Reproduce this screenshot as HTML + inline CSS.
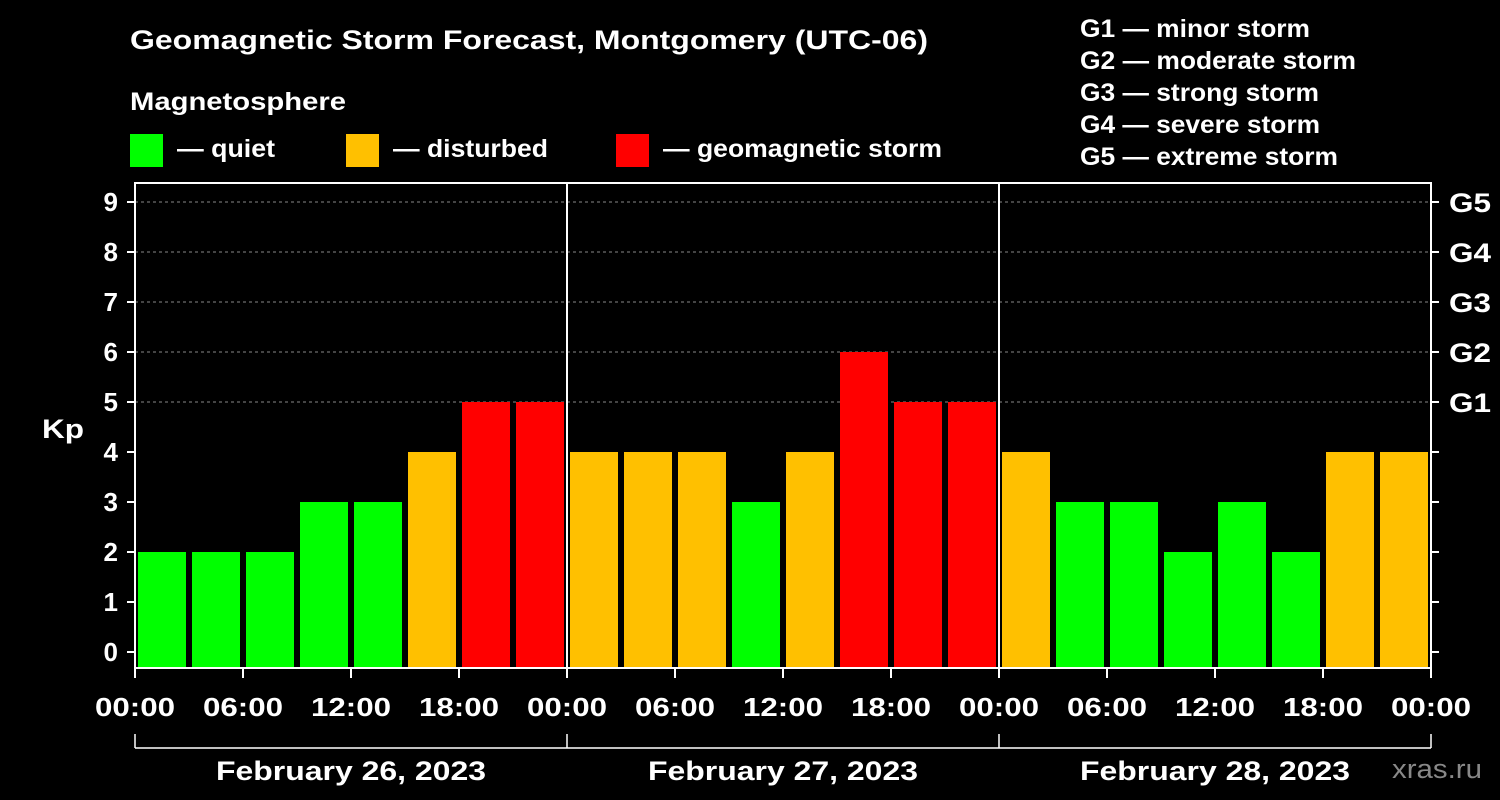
<!DOCTYPE html>
<html><head><meta charset="utf-8"><style>
html,body{margin:0;padding:0;background:#000;}
svg{display:block;font-family:"Liberation Sans",Arial,sans-serif;font-weight:bold;}
</style></head><body>
<svg id="chart" width="1500" height="800" viewBox="0 0 1500 800" xmlns="http://www.w3.org/2000/svg">
<rect width="1500" height="800" fill="#000"/>
<text x="130" y="49" fill="#fff" font-size="27" textLength="798" lengthAdjust="spacingAndGlyphs">Geomagnetic Storm Forecast, Montgomery (UTC-06)</text>
<text x="130" y="110" fill="#fff" font-size="25" textLength="216" lengthAdjust="spacingAndGlyphs">Magnetosphere</text>
<g><rect x="130" y="134" width="33" height="33" fill="#00ff00"/><text x="177" y="157" fill="#fff" font-size="25" textLength="98" lengthAdjust="spacingAndGlyphs">— quiet</text></g>
<g><rect x="346" y="134" width="33" height="33" fill="#ffc000"/><text x="393" y="157" fill="#fff" font-size="25" textLength="155" lengthAdjust="spacingAndGlyphs">— disturbed</text></g>
<g><rect x="616" y="134" width="33" height="33" fill="#ff0000"/><text x="663" y="157" fill="#fff" font-size="25" textLength="279" lengthAdjust="spacingAndGlyphs">— geomagnetic storm</text></g>
<g fill="#fff" font-size="25">
<text x="1080" y="37" textLength="230" lengthAdjust="spacingAndGlyphs">G1 — minor storm</text>
<text x="1080" y="69" textLength="276" lengthAdjust="spacingAndGlyphs">G2 — moderate storm</text>
<text x="1080" y="101" textLength="239" lengthAdjust="spacingAndGlyphs">G3 — strong storm</text>
<text x="1080" y="133" textLength="240" lengthAdjust="spacingAndGlyphs">G4 — severe storm</text>
<text x="1080" y="165" textLength="258" lengthAdjust="spacingAndGlyphs">G5 — extreme storm</text>
</g>
<text x="42" y="438" fill="#fff" font-size="27" textLength="42" lengthAdjust="spacingAndGlyphs">Kp</text>
<text x="1392" y="778" fill="#888" font-size="27" font-weight="normal" textLength="90" lengthAdjust="spacingAndGlyphs">xras.ru</text>
<g id="plot"></g>
</svg>
<script>
const kpValues = [2,2,2,3,3,4,5,5, 4,4,4,3,4,6,5,5, 4,3,3,2,3,2,4,4];
const yTicks = [0,1,2,3,4,5,6,7,8,9];
const gLabels = {5:'G1',6:'G2',7:'G3',8:'G4',9:'G5'};
const xTickLabels = ['00:00','06:00','12:00','18:00','00:00','06:00','12:00','18:00','00:00','06:00','12:00','18:00','00:00'];
const dayLabels = ['February 26, 2023','February 27, 2023','February 28, 2023'];

const NS='http://www.w3.org/2000/svg';
const L=135,R=1431,T=183,B=668;
const slot=(R-L)/kpValues.length;
const y=v=>652-50*v;
const x=i=>L+i*slot;
const g=document.getElementById('plot');
function mk(tag,attrs,parent){const e=document.createElementNS(NS,tag);for(const k in attrs)e.setAttribute(k,attrs[k]);(parent||g).appendChild(e);return e;}
yTicks.forEach(v=>{
  if(v>=5){const l=mk('line',{x1:L,x2:R,y1:y(v),y2:y(v),stroke:'#888','stroke-dasharray':'3,3','stroke-width':1});
  
  }
});
kpValues.forEach((v,i)=>{
  const c=v>=5?'#ff0000':(v>=4?'#ffc000':'#00ff00');
  const r=mk('rect',{x:x(i)+3,y:y(v),width:slot-6,height:B-y(v),fill:c});
  
  
});
const fr=mk('rect',{x:L,y:T,width:R-L,height:B-T,fill:'none',stroke:'#fff','stroke-width':2});


const nDays=dayLabels.length, dayW=(R-L)/nDays;
for(let d=1;d<nDays;d++){const l=mk('line',{x1:L+d*dayW,x2:L+d*dayW,y1:T,y2:B,stroke:'#fff','stroke-width':2});

}
yTicks.forEach(v=>{
  mk('line',{x1:L-8,x2:L,y1:y(v),y2:y(v),stroke:'#fff','stroke-width':2});
  mk('line',{x1:R,x2:R+8,y1:y(v),y2:y(v),stroke:'#fff','stroke-width':2});
  const t=mk('text',{x:L-17,y:y(v)+9,fill:'#fff','font-size':26,'text-anchor':'end'});t.textContent=v;
  
  
  if(gLabels[v]){const t2=mk('text',{x:R+18,y:y(v)+10,fill:'#fff','font-size':27,textLength:42,lengthAdjust:'spacingAndGlyphs'});t2.textContent=gLabels[v];
  
  }
});
const xs=(R-L)/(xTickLabels.length-1);
xTickLabels.forEach((s,i)=>{
  const px=L+i*xs;
  mk('line',{x1:px,x2:px,y1:B,y2:B+10,stroke:'#fff','stroke-width':2});
  const t=mk('text',{x:px-40,y:716,fill:'#fff','font-size':26,textLength:80,lengthAdjust:'spacingAndGlyphs'});t.textContent=s;
  
  
});
mk('line',{x1:L,x2:R,y1:748,y2:748,stroke:'#fff','stroke-width':1.5});
for(let d=0;d<=nDays;d++){mk('line',{x1:L+d*dayW,x2:L+d*dayW,y1:734,y2:748,stroke:'#fff','stroke-width':1.5});}
dayLabels.forEach((s,d)=>{
  const t=mk('text',{x:L+(d+0.5)*dayW-135,y:780,fill:'#fff','font-size':27,textLength:270,lengthAdjust:'spacingAndGlyphs'});t.textContent=s;
  
  
});
</script>
</body></html>
